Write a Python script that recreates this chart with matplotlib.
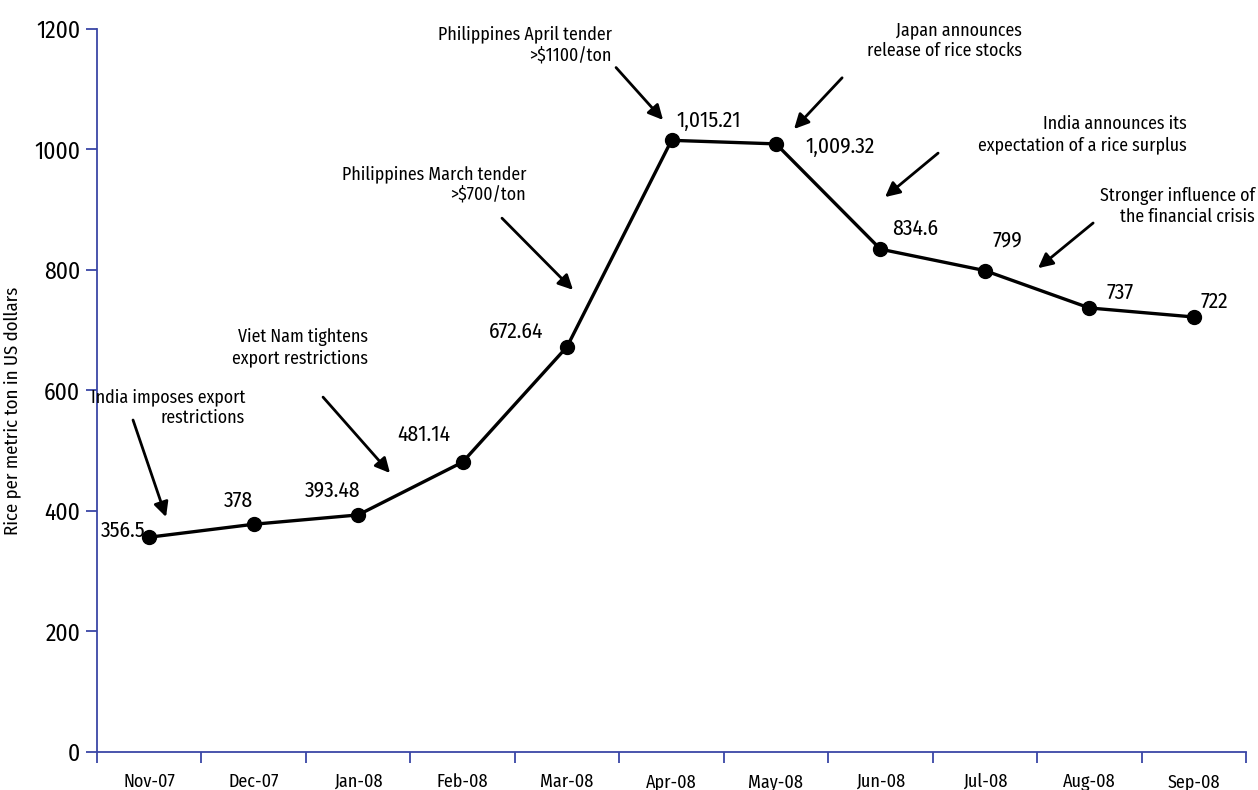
import matplotlib
matplotlib.use('Agg')
import matplotlib.pyplot as plt
import numpy as np

plt.rcParams['font.family'] = ['Fira Sans Condensed', 'DejaVu Sans']
plt.rcParams['font.stretch'] = 'condensed'

months = ['Nov-07', 'Dec-07', 'Jan-08', 'Feb-08', 'Mar-08', 'Apr-08',
          'May-08', 'Jun-08', 'Jul-08', 'Aug-08', 'Sep-08']
prices = [356.5, 378, 393.48, 481.14, 672.64, 1015.21,
          1009.32, 834.6, 799, 737, 722]
price_labels = ['356.5', '378', '393.48', '481.14', '672.64', '1,015.21',
                '1,009.32', '834.6', '799', '737', '722']
# label offsets from each point, in points
label_offsets = [(-19, 5), (-11, 17), (-18, 18), (-28, 20), (-37, 11), (27, 14),
                 (46, -2), (25, 15), (16, 22), (22, 11), (15, 11)]

events = ['India imposes export\nrestrictions',
          'Viet Nam tightens\nexport restrictions',
          'Philippines March tender\n>$700/ton',
          'Philippines April tender\n>$1100/ton',
          'Japan announces\nrelease of rice stocks',
          'India announces its\nexpectation of a rice surplus',
          'Stronger influence of\nthe financial crisis']
# text anchor (right edge, centre) and arrow start / end, data coords
event_text_xy = [(1.417, 572), (2.595, 671), (4.107, 942), (4.931, 1174),
                 (8.856, 1181), (10.436, 1025), (11.087, 905)]
arrow_from = [(0.345, 551), (2.164, 589), (3.877, 886), (4.969, 1136),
              (7.133, 1119), (8.052, 994), (9.536, 878)]
arrow_to = [(0.661, 390), (2.805, 463), (4.557, 767), (5.419, 1049),
            (6.673, 1034), (7.544, 921), (9.009, 803)]

axis_col = '#3a46a6'

fig = plt.figure(figsize=(12.58, 7.9), dpi=100)
ax = fig.add_axes([0.0771, 0.0481, 0.9134, 0.9152])

x = np.arange(len(months)) + 0.5
ax.plot(x, prices, color='black', lw=2.4, marker='o', markersize=10, zorder=3)

for xi, yi, lab, off in zip(x, prices, price_labels, label_offsets):
    ax.annotate(lab, (xi, yi), xytext=off, textcoords='offset points',
                ha='center', va='center', fontsize=15.5)

for txt, txy, a0, a1 in zip(events, event_text_xy, arrow_from, arrow_to):
    ax.text(txy[0], txy[1], txt, ha='right', va='center', fontsize=12.8,
            linespacing=1.2, multialignment='right', clip_on=False)
    ax.annotate('', xy=a1, xytext=a0,
                arrowprops=dict(arrowstyle='-|>', color='black', lw=2,
                                mutation_scale=22, shrinkA=0, shrinkB=0))

ax.set_xlim(0, len(months))
ax.set_ylim(0, 1200)
ax.set_yticks(range(0, 1201, 200))
ax.set_xticks(range(0, len(months) + 1))
ax.set_xticklabels([])
ax.set_xticks(x, minor=True)
ax.set_xticklabels(months, minor=True, fontsize=13)

ax.tick_params(axis='x', which='major', length=8, width=1.3, color=axis_col)
ax.tick_params(axis='x', which='minor', length=0, pad=15)
ax.tick_params(axis='y', length=8, width=1.3, color=axis_col, labelsize=17, pad=4)

for s in ['top', 'right']:
    ax.spines[s].set_visible(False)
for s in ['left', 'bottom']:
    ax.spines[s].set_color(axis_col)
    ax.spines[s].set_linewidth(1.3)

ax.set_ylabel('Rice per metric ton in US dollars', fontsize=13.5)
ax.yaxis.set_label_coords(-0.066, 0.472)

fig.savefig('out.png', dpi=100)
